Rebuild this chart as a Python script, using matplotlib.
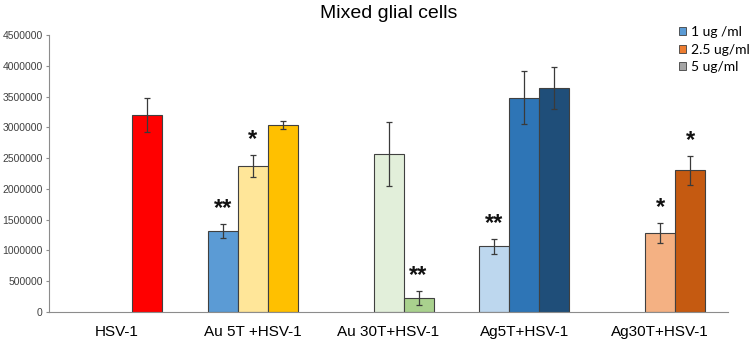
import matplotlib.pyplot as plt
from matplotlib.patches import Patch
import numpy as np

# Datos
groups = ['HSV-1', 'Au 5T +HSV-1', 'Au 30T+HSV-1', 'Ag5T+HSV-1', 'Ag30T+HSV-1']
bar_group = [0, 1, 1, 1, 2, 2, 3, 3, 3, 4, 4]
bar_slot = [2, 0, 1, 2, 1, 2, 0, 1, 2, 1, 2]
values = [3200000, 1315000, 2370000, 3035000, 2565000, 230000,
          1065000, 3480000, 3640000, 1280000, 2300000]
errors = [270000, 120000, 180000, 65000, 520000, 110000,
          120000, 430000, 340000, 160000, 240000]
stars = ['', '**', '*', '', '', '**', '**', '', '', '*', '*']
bar_colors = ['#FF0000', '#5B9BD5', '#FFE699', '#FFC000', '#E2EFDA', '#A9D18E',
              '#BDD7EE', '#2E75B6', '#1F4E79', '#F4B183', '#C55A11']

legend_labels = ['1 ug /ml', '2.5 ug/ml', '5 ug/ml']
legend_colors = ['#5B9BD5', '#ED7D31', '#A5A5A5']

plt.rcParams['font.family'] = ['Liberation Sans', 'DejaVu Sans']

fig = plt.figure(figsize=(7.53, 3.41), dpi=100)
ax = fig.add_axes([0.0651, 0.085, 0.9017, 0.8124])

width = 0.221
x = np.array(bar_group) + (np.array(bar_slot) - 1) * width
ax.bar(x, values, width=width, color=bar_colors, edgecolor='#404040', linewidth=0.8)
ax.errorbar(x, values, yerr=errors, fmt='none', ecolor='#3a3a3a', elinewidth=0.9,
            capsize=2.5, capthick=0.9)

for xi, v, e, s in zip(x, values, errors, stars):
    if s:
        ax.text(xi, v + e + 250000, s, ha='center', va='center', fontsize=17,
                fontweight='bold', color='#111111')

ax.set_xlim(-0.5, len(groups) - 0.5)
ax.set_ylim(0, 4500000)
ax.set_yticks(np.arange(0, 4500001, 500000))
ax.yaxis.set_major_formatter(plt.FuncFormatter(lambda v, p: f'{int(v)}'))
ax.set_xticks(range(len(groups)))
ax.set_xticklabels(groups, fontsize=11)
ax.tick_params(axis='x', length=0, pad=9)
ax.tick_params(axis='y', labelsize=7.5, length=2.5, pad=2, color='#8c8c8c', labelcolor='#404040')
for sp in ['top', 'right']:
    ax.spines[sp].set_visible(False)
ax.spines['left'].set_color('#8c8c8c')
ax.spines['bottom'].set_color('#8c8c8c')

ax.set_title('Mixed glial cells', fontsize=14, pad=12)

handles = [Patch(facecolor=c, edgecolor='#404040', linewidth=0.6) for c in legend_colors]
fig.legend(handles, legend_labels, loc='upper left', bbox_to_anchor=(679 / 753, 1 - 26 / 341),
           frameon=False, prop={'family': 'Lato', 'size': 10}, handlelength=0.5,
           handleheight=0.5, handletextpad=0.35, labelspacing=0.4, borderpad=0,
           borderaxespad=0)

fig.savefig('out.png', dpi=100)
